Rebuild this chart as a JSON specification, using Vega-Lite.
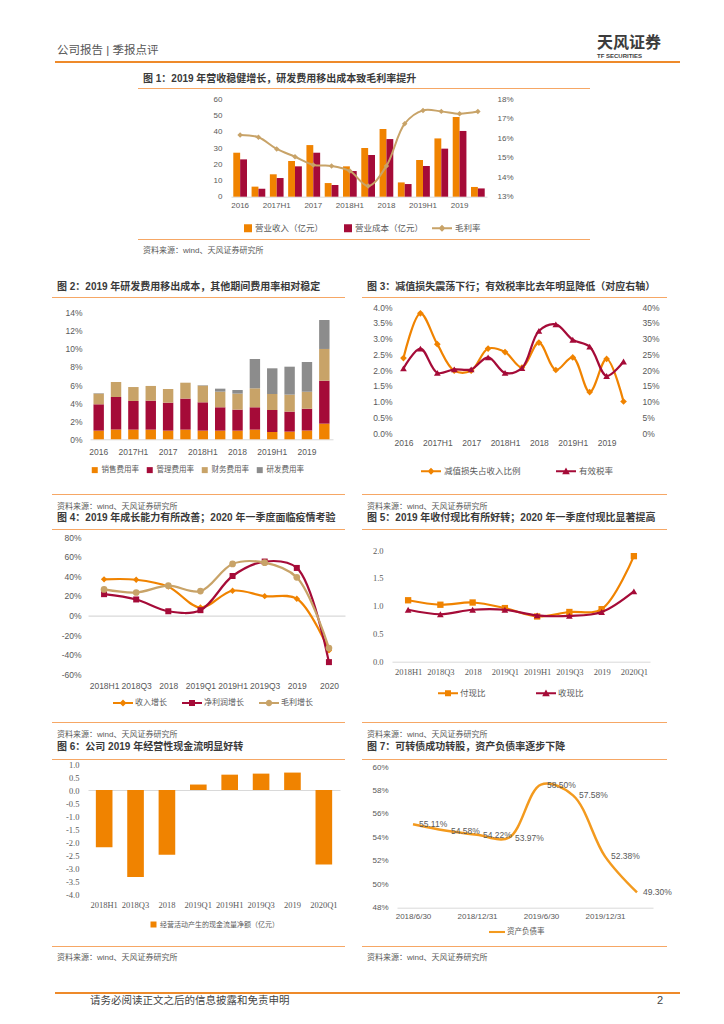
{
"$schema":"https://vega.github.io/schema/vega-lite/v6.json",
"padding":0,
"background":"white",
"spacing":0,
"resolve":{"scale":{"color":"independent","fill":"independent","shape":"independent"}},
"config":{
 "font":"Liberation Sans, Noto Sans CJK SC",
 "view":{"stroke":null},
 "locale":{"number":{"decimal":".","thousands":",","grouping":[3],"currency":["$",""],"minus":"-"}},
 "axis":{"labelFont":"Liberation Sans, Noto Sans CJK SC","labelFontSize":8,"labelColor":"#595959","domain":false,"ticks":false,"grid":false,"labelPadding":6,"labelOverlap":false},
 "legend":{"labelFont":"Liberation Sans, Noto Sans CJK SC","labelFontSize":8,"labelColor":"#595959"},
 "title":{"font":"Liberation Sans, Noto Sans CJK SC","limit":500}
},
"datasets":{
 "f1b":[
  {"p":"2016","s":"营业收入（亿元）","v":27.1},{"p":"2016","s":"营业成本（亿元）","v":23.0},
  {"p":"2017Q1","s":"营业收入（亿元）","v":6.2},{"p":"2017Q1","s":"营业成本（亿元）","v":4.9},
  {"p":"2017H1","s":"营业收入（亿元）","v":13.8},{"p":"2017H1","s":"营业成本（亿元）","v":11.5},
  {"p":"2017Q3","s":"营业收入（亿元）","v":22.0},{"p":"2017Q3","s":"营业成本（亿元）","v":18.7},
  {"p":"2017","s":"营业收入（亿元）","v":31.8},{"p":"2017","s":"营业成本（亿元）","v":27.1},
  {"p":"2018Q1","s":"营业收入（亿元）","v":8.4},{"p":"2018Q1","s":"营业成本（亿元）","v":7.2},
  {"p":"2018H1","s":"营业收入（亿元）","v":18.7},{"p":"2018H1","s":"营业成本（亿元）","v":15.8},
  {"p":"2018Q3","s":"营业收入（亿元）","v":30.0},{"p":"2018Q3","s":"营业成本（亿元）","v":25.7},
  {"p":"2018","s":"营业收入（亿元）","v":41.7},{"p":"2018","s":"营业成本（亿元）","v":35.5},
  {"p":"2019Q1","s":"营业收入（亿元）","v":8.8},{"p":"2019Q1","s":"营业成本（亿元）","v":7.8},
  {"p":"2019H1","s":"营业收入（亿元）","v":22.6},{"p":"2019H1","s":"营业成本（亿元）","v":18.9},
  {"p":"2019Q3","s":"营业收入（亿元）","v":35.9},{"p":"2019Q3","s":"营业成本（亿元）","v":29.6},
  {"p":"2019","s":"营业收入（亿元）","v":49.1},{"p":"2019","s":"营业成本（亿元）","v":40.5},
  {"p":"2020Q1","s":"营业收入（亿元）","v":6.0},{"p":"2020Q1","s":"营业成本（亿元）","v":5.1}
 ],
 "f1g":[
  {"p":"2016","v":0.1617},{"p":"2017Q1","v":0.1605},{"p":"2017H1","v":0.1545},{"p":"2017Q3","v":0.1505},
  {"p":"2017","v":0.1463},{"p":"2018Q1","v":0.1458},{"p":"2018H1","v":0.1432},{"p":"2018Q3","v":0.1355},
  {"p":"2018","v":0.1458},{"p":"2019Q1","v":0.1675},{"p":"2019H1","v":0.1743},{"p":"2019Q3","v":0.1738},
  {"p":"2019","v":0.1726},{"p":"2020Q1","v":0.1737}
 ],
 "f2":[
  {"p":"2016","s":"销售费用率","v":0.0096,"o":1},{"p":"2016","s":"管理费用率","v":0.0291,"o":2},{"p":"2016","s":"财务费用率","v":0.0118,"o":3},{"p":"2016","s":"研发费用率","v":0.0005,"o":4},
  {"p":"2017Q1","s":"销售费用率","v":0.0107,"o":1},{"p":"2017Q1","s":"管理费用率","v":0.0361,"o":2},{"p":"2017Q1","s":"财务费用率","v":0.0166,"o":3},{"p":"2017Q1","s":"研发费用率","v":0,"o":4},
  {"p":"2017H1","s":"销售费用率","v":0.0107,"o":1},{"p":"2017H1","s":"管理费用率","v":0.0317,"o":2},{"p":"2017H1","s":"财务费用率","v":0.0154,"o":3},{"p":"2017H1","s":"研发费用率","v":0,"o":4},
  {"p":"2017Q3","s":"销售费用率","v":0.0107,"o":1},{"p":"2017Q3","s":"管理费用率","v":0.0320,"o":2},{"p":"2017Q3","s":"财务费用率","v":0.0163,"o":3},{"p":"2017Q3","s":"研发费用率","v":0,"o":4},
  {"p":"2017","s":"销售费用率","v":0.0096,"o":1},{"p":"2017","s":"管理费用率","v":0.0309,"o":2},{"p":"2017","s":"财务费用率","v":0.0151,"o":3},{"p":"2017","s":"研发费用率","v":0,"o":4},
  {"p":"2018Q1","s":"销售费用率","v":0.0107,"o":1},{"p":"2018Q1","s":"管理费用率","v":0.0343,"o":2},{"p":"2018Q1","s":"财务费用率","v":0.0176,"o":3},{"p":"2018Q1","s":"研发费用率","v":0,"o":4},
  {"p":"2018H1","s":"销售费用率","v":0.0096,"o":1},{"p":"2018H1","s":"管理费用率","v":0.0313,"o":2},{"p":"2018H1","s":"财务费用率","v":0.0184,"o":3},{"p":"2018H1","s":"研发费用率","v":0.0005,"o":4},
  {"p":"2018Q3","s":"销售费用率","v":0.0096,"o":1},{"p":"2018Q3","s":"管理费用率","v":0.0258,"o":2},{"p":"2018Q3","s":"财务费用率","v":0.0173,"o":3},{"p":"2018Q3","s":"研发费用率","v":0.0033,"o":4},
  {"p":"2018","s":"销售费用率","v":0.0096,"o":1},{"p":"2018","s":"管理费用率","v":0.0232,"o":2},{"p":"2018","s":"财务费用率","v":0.0177,"o":3},{"p":"2018","s":"研发费用率","v":0.0040,"o":4},
  {"p":"2019Q1","s":"销售费用率","v":0.0107,"o":1},{"p":"2019Q1","s":"管理费用率","v":0.0247,"o":2},{"p":"2019Q1","s":"财务费用率","v":0.0210,"o":3},{"p":"2019Q1","s":"研发费用率","v":0.0324,"o":4},
  {"p":"2019H1","s":"销售费用率","v":0.0081,"o":1},{"p":"2019H1","s":"管理费用率","v":0.0243,"o":2},{"p":"2019H1","s":"财务费用率","v":0.0177,"o":3},{"p":"2019H1","s":"研发费用率","v":0.0284,"o":4},
  {"p":"2019Q3","s":"销售费用率","v":0.0085,"o":1},{"p":"2019Q3","s":"管理费用率","v":0.0221,"o":2},{"p":"2019Q3","s":"财务费用率","v":0.0188,"o":3},{"p":"2019Q3","s":"研发费用率","v":0.0309,"o":4},
  {"p":"2019","s":"销售费用率","v":0.0096,"o":1},{"p":"2019","s":"管理费用率","v":0.0243,"o":2},{"p":"2019","s":"财务费用率","v":0.0188,"o":3},{"p":"2019","s":"研发费用率","v":0.0328,"o":4},
  {"p":"2020Q1","s":"销售费用率","v":0.0173,"o":1},{"p":"2020Q1","s":"管理费用率","v":0.0475,"o":2},{"p":"2020Q1","s":"财务费用率","v":0.0351,"o":3},{"p":"2020Q1","s":"研发费用率","v":0.0320,"o":4}
 ],
 "f3":[
  {"p":"2016","a":0.0238,"b":0.205},{"p":"2017Q1","a":0.0380,"b":0.268},{"p":"2017H1","a":0.0282,"b":0.191},
  {"p":"2017Q3","a":0.0198,"b":0.202},{"p":"2017","a":0.0198,"b":0.202},{"p":"2018Q1","a":0.0268,"b":0.240},
  {"p":"2018H1","a":0.0257,"b":0.191},{"p":"2018Q3","a":0.0208,"b":0.206},{"p":"2018","a":0.0287,"b":0.324},
  {"p":"2019Q1","a":0.0200,"b":0.345},{"p":"2019H1","a":0.0240,"b":0.296},{"p":"2019Q3","a":0.0130,"b":0.274},
  {"p":"2019","a":0.0235,"b":0.181},{"p":"2020Q1","a":0.0100,"b":0.227}
 ],
 "f4":[
  {"p":"2018H1","r":0.369,"n":0.218,"g":0.266},{"p":"2018Q3","r":0.365,"n":0.164,"g":0.235},
  {"p":"2018","r":0.294,"n":0.044,"g":0.304},{"p":"2019Q1","r":0.082,"n":0.055,"g":0.249},
  {"p":"2019H1","r":0.253,"n":0.403,"g":0.526},{"p":"2019Q3","r":0.198,"n":0.550,"g":0.539},
  {"p":"2019","r":0.171,"n":0.485,"g":0.389},{"p":"2020","r":-0.355,"n":-0.474,"g":-0.331}
 ],
 "f5":[
  {"p":"2018H1","f":1.10,"c":0.93},{"p":"2018Q3","f":1.02,"c":0.85},{"p":"2018","f":1.06,"c":0.93},
  {"p":"2019Q1","f":0.96,"c":0.93},{"p":"2019H1","f":0.81,"c":0.83},{"p":"2019Q3","f":0.89,"c":0.82},
  {"p":"2019","f":0.94,"c":0.89},{"p":"2020Q1","f":1.89,"c":1.26}
 ],
 "f6":[
  {"p":"2018H1","v":-2.20},{"p":"2018Q3","v":-3.35},{"p":"2018","v":-2.49},{"p":"2019Q1","v":0.21},
  {"p":"2019H1","v":0.59},{"p":"2019Q3","v":0.63},{"p":"2019","v":0.67},{"p":"2020Q1","v":-2.87}
 ],
 "f7":[
  {"p":"2018/6/30","v":0.5511},{"p":"2018/9/30","v":0.5458},{"p":"2018/12/31","v":0.5422},{"p":"2019/3/31","v":0.5397},
  {"p":"2019/6/30","v":0.5850},{"p":"2019/9/30","v":0.5758},{"p":"2019/12/31","v":0.5238},{"p":"2020/3/31","v":0.4930}
 ]
},
"vconcat":[
 {"spacing":0,"hconcat":[
  {"width":360,"height":61,"data":{"values":[]},"mark":"point",
   "title":{"text":"公司报告 | 季报点评","orient":"bottom","anchor":"start","dx":57,"offset":-16,"fontSize":11.5,"fontWeight":"normal","color":"#555555"}},
  {"width":364,"height":61,"data":{"values":[]},"mark":"point",
   "title":{"text":"天风证券","subtitle":"TF SECURITIES","orient":"bottom","anchor":"start","dx":237,"offset":-26,"fontSize":16,"fontWeight":"bold","color":"#3C3C3C","subtitleFontSize":6,"subtitleFontWeight":"bold","subtitleColor":"#3C3C3C","subtitlePadding":2,"subtitleFont":"Liberation Sans"}}
 ]},
 {"spacing":0,"hconcat":[
  {"width":55,"height":2,"data":{"values":[]},"mark":"point"},
  {"width":625,"height":2,"data":{"values":[]},"mark":"point","view":{"fill":"#EE8A2A"}}
 ]},
 {"spacing":0,"resolve":{"scale":{"color":"independent","fill":"independent","shape":"independent"}},"hconcat":[
  {"width":138,"height":1,"data":{"values":[]},"mark":"point"},
  {"spacing":0,"resolve":{"scale":{"color":"independent","fill":"independent","shape":"independent"}},"vconcat":[
   {"width":452,"height":25,"data":{"values":[]},"mark":"point",
    "title":{"text":"图 1：2019 年营收稳健增长，研发费用移出成本致毛利率提升","orient":"top","anchor":"start","dx":5,"offset":-21,"fontSize":10,"fontWeight":"bold","color":"#3A3A3A"}},
   {"width":452,"height":1,"data":{"values":[]},"mark":"point","view":{"fill":"#F6A765"}},
   {"width":452,"height":150,
    "layer":[
     {"data":{"name":"f1b"},"mark":{"type":"bar"},
      "encoding":{
       "x":{"field":"p","type":"nominal","scale":{"domain":["2016","2017Q1","2017H1","2017Q3","2017","2018Q1","2018H1","2018Q3","2018","2019Q1","2019H1","2019Q3","2019","2020Q1"],"range":[93,349],"paddingInner":0.25,"paddingOuter":0.125},
            "axis":{"title":null,"labelAngle":0,"values":["2016","2017H1","2017","2018H1","2018","2019H1","2019"],"domain":true,"domainColor":"#D9D9D9","labelPadding":5,"offset":-42.3,"labelOverlap":false}},
       "xOffset":{"field":"s","type":"nominal","scale":{"domain":["营业收入（亿元）","营业成本（亿元）"]}},
       "y":{"field":"v","type":"quantitative","scale":{"domain":[0,60],"range":[107.7,10.3]},"axis":{"title":null,"values":[0,10,20,30,40,50,60],"labelPadding":9,"offset":-93,"labelOverlap":false}},
       "color":{"field":"s","type":"nominal","scale":{"domain":["营业收入（亿元）","营业成本（亿元）"],"range":["#F08300","#A50B38"]},"legend":null}
      }},
     {"data":{"name":"f1g"},
      "encoding":{"x":{"field":"p","type":"nominal","bandPosition":0.5,"title":null},
                  "y":{"field":"v","type":"quantitative","scale":{"domain":[0.13,0.18],"range":[107.7,10.3]},"axis":{"title":null,"orient":"right","format":".0%","values":[0.13,0.14,0.15,0.16,0.17,0.18],"labelPadding":10,"offset":-103,"labelOverlap":false}}},
      "layer":[
       {"mark":{"type":"line","color":"#C8A368","strokeWidth":2,"interpolate":"catmull-rom"}},
       {"mark":{"type":"point","shape":"diamond","filled":true,"color":"#C8A368","size":30,"opacity":1}}
      ]},
     {"data":{"values":[]},"mark":{"type":"point","filled":true},
      "encoding":{
       "fill":{"field":"s","type":"nominal","scale":{"domain":["营业收入（亿元）","营业成本（亿元）","毛利率"],"range":["#F08300","#A50B38","#C8A368"]},
               "legend":{"orient":"none","legendX":94,"legendY":129,"direction":"horizontal","title":null,"symbolSize":400,"labelOffset":3,"columnPadding":8,"symbolStrokeWidth":0,"symbolOpacity":1,"labelFontSize":8.5}},
       "shape":{"field":"s","type":"nominal","scale":{"domain":["营业收入（亿元）","营业成本（亿元）","毛利率"],"range":["M0.2,-0.4H1V0.4H0.2Z","M0.2,-0.4H1V0.4H0.2Z","M-1,-0.1H1V0.1H-1Z M0,-0.35L0.35,0L0,0.35L-0.35,0Z"]},
               "legend":{"orient":"none","legendX":94,"legendY":129,"direction":"horizontal","title":null,"symbolSize":400,"labelOffset":3,"columnPadding":8,"symbolStrokeWidth":0,"symbolOpacity":1,"labelFontSize":8.5}}
      }}
    ],
    "resolve":{"scale":{"y":"independent"}}
   },
   {"width":452,"height":1,"data":{"values":[]},"mark":"point","view":{"fill":"#F6A765"}},
   {"width":452,"height":18,"data":{"values":[]},"mark":"point",
    "title":{"text":"资料来源：wind、天风证券研究所","orient":"bottom","anchor":"start","dx":5,"offset":-11,"fontSize":8,"fontWeight":"normal","color":"#595959"}}
  ]}
 ]},
 {"spacing":0,"resolve":{"scale":{"color":"independent","fill":"independent","shape":"independent"}},"hconcat":[
  {"width":52,"height":1,"data":{"values":[]},"mark":"point"},
  {"spacing":0,"resolve":{"scale":{"color":"independent","fill":"independent","shape":"independent"}},"vconcat":[
   {"width":293,"height":39,"data":{"values":[]},"mark":"point",
    "title":{"text":"图 2：2019 年研发费用移出成本，其他期间费用率相对稳定","orient":"top","anchor":"start","dx":5,"offset":-34,"fontSize":10,"fontWeight":"bold","color":"#3A3A3A"}},
   {"width":293,"height":1,"data":{"values":[]},"mark":"point","view":{"fill":"#F6A765"}},
   {"width":293,"height":196,"data":{"name":"f2"},"mark":{"type":"bar"},
    "encoding":{
     "x":{"field":"p","type":"nominal","scale":{"domain":["2016","2017Q1","2017H1","2017Q3","2017","2018Q1","2018H1","2018Q3","2018","2019Q1","2019H1","2019Q3","2019","2020Q1"],"range":[38,281],"paddingInner":0.4,"paddingOuter":0.2},
          "axis":{"title":null,"labelAngle":0,"values":["2016","2017H1","2017","2018H1","2018","2019H1","2019"],"domain":true,"domainColor":"#D9D9D9","labelPadding":8,"labelFontSize":8.5,"offset":-54.7,"labelOverlap":false}},
     "y":{"field":"v","type":"quantitative","stack":"zero","scale":{"domain":[0,0.14],"range":[141.3,14.7]},"axis":{"title":null,"format":".0%","values":[0,0.02,0.04,0.06,0.08,0.1,0.12,0.14],"labelPadding":8,"labelFontSize":8.5,"offset":-38,"labelOverlap":false}},
     "color":{"field":"s","type":"nominal","scale":{"domain":["销售费用率","管理费用率","财务费用率","研发费用率"],"range":["#F08300","#A50B38","#C8A368","#8C8C8C"]},
              "legend":{"orient":"none","legendX":39,"legendY":168,"direction":"horizontal","title":null,"symbolType":"square","symbolSize":36,"labelOffset":3,"columnPadding":7,"symbolStrokeWidth":0,"labelFontSize":7.5}},
     "order":{"field":"o","type":"quantitative"}
    }},
   {"width":293,"height":1,"data":{"values":[]},"mark":"point","view":{"fill":"#F6A765"}},
   {"width":293,"height":17,"data":{"values":[]},"mark":"point",
    "title":{"text":"资料来源：wind、天风证券研究所","orient":"bottom","anchor":"start","dx":5,"offset":-9,"fontSize":8,"fontWeight":"normal","color":"#595959"}}
  ]},
  {"width":17,"height":1,"data":{"values":[]},"mark":"point"},
  {"spacing":0,"resolve":{"scale":{"color":"independent","fill":"independent","shape":"independent"}},"vconcat":[
   {"width":305,"height":39,"data":{"values":[]},"mark":"point",
    "title":{"text":"图 3：减值损失震荡下行；有效税率比去年明显降低（对应右轴）","orient":"top","anchor":"start","dx":5,"offset":-34,"fontSize":10,"fontWeight":"bold","color":"#3A3A3A"}},
   {"width":305,"height":1,"data":{"values":[]},"mark":"point","view":{"fill":"#F6A765"}},
   {"width":305,"height":196,"data":{"name":"f3"},
    "layer":[
     {"encoding":{"x":{"field":"p","type":"nominal","scale":{"domain":["2016","2017Q1","2017H1","2017Q3","2017","2018Q1","2018H1","2018Q3","2018","2019Q1","2019H1","2019Q3","2019","2020Q1"],"range":[33,270]},"axis":{"title":null,"labelAngle":0,"values":["2016","2017H1","2017","2018H1","2018","2019H1","2019"],"labelPadding":5,"labelFontSize":8.5,"offset":-61,"labelOverlap":false}},
                  "y":{"field":"a","type":"quantitative","scale":{"domain":[0,0.04],"range":[135,9]},"axis":{"title":null,"format":".1%","values":[0,0.005,0.01,0.015,0.02,0.025,0.03,0.035,0.04],"labelPadding":3,"labelFontSize":8.5,"offset":-33,"labelOverlap":false}}},
      "layer":[
       {"mark":{"type":"line","color":"#F08300","strokeWidth":2.2,"interpolate":"catmull-rom"}},
       {"mark":{"type":"point","shape":"diamond","filled":true,"color":"#F08300","size":45,"opacity":1}}
      ]},
     {"encoding":{"x":{"field":"p","type":"nominal","title":null},
                  "y":{"field":"b","type":"quantitative","scale":{"domain":[0,0.4],"range":[135,9]},"axis":{"title":null,"orient":"right","format":".0%","values":[0,0.05,0.1,0.15,0.2,0.25,0.3,0.35,0.4],"labelPadding":10,"labelFontSize":8.5,"offset":-35,"labelOverlap":false}}},
      "layer":[
       {"mark":{"type":"line","color":"#A50B38","strokeWidth":2.2,"interpolate":"catmull-rom"}},
       {"mark":{"type":"point","shape":"triangle-up","filled":true,"color":"#A50B38","size":45,"opacity":1}}
      ]},
     {"data":{"values":[]},"mark":{"type":"point","filled":true},
      "encoding":{
       "fill":{"field":"s","type":"nominal","scale":{"domain":["减值损失占收入比例","有效税率"],"range":["#F08300","#A50B38"]},
               "legend":{"orient":"none","legendX":59,"legendY":163,"direction":"horizontal","title":null,"symbolSize":400,"labelOffset":3,"columnPadding":35,"symbolStrokeWidth":0,"symbolOpacity":1,"labelFontSize":8.5}},
       "shape":{"field":"s","type":"nominal","scale":{"domain":["减值损失占收入比例","有效税率"],"range":["M-1,-0.1H1V0.1H-1Z M0,-0.35L0.35,0L0,0.35L-0.35,0Z","M-1,-0.1H1V0.1H-1Z M0,-0.38L0.38,0.3L-0.38,0.3Z"]},
               "legend":{"orient":"none","legendX":59,"legendY":163,"direction":"horizontal","title":null,"symbolSize":400,"labelOffset":3,"columnPadding":35,"symbolStrokeWidth":0,"symbolOpacity":1,"labelFontSize":8.5}}
      }}
    ],
    "resolve":{"scale":{"y":"independent"}}
   },
   {"width":305,"height":1,"data":{"values":[]},"mark":"point","view":{"fill":"#F6A765"}},
   {"width":305,"height":17,"data":{"values":[]},"mark":"point",
    "title":{"text":"资料来源：wind、天风证券研究所","orient":"bottom","anchor":"start","dx":5,"offset":-9,"fontSize":8,"fontWeight":"normal","color":"#595959"}}
  ]}
 ]},
 {"spacing":0,"resolve":{"scale":{"color":"independent","fill":"independent","shape":"independent"}},"hconcat":[
  {"width":52,"height":1,"data":{"values":[]},"mark":"point"},
  {"spacing":0,"resolve":{"scale":{"color":"independent","fill":"independent","shape":"independent"}},"vconcat":[
   {"width":293,"height":17,"data":{"values":[]},"mark":"point",
    "title":{"text":"图 4：2019 年成长能力有所改善；2020 年一季度面临疫情考验","orient":"top","anchor":"start","dx":5,"offset":-11,"fontSize":10,"fontWeight":"bold","color":"#3A3A3A"}},
   {"width":293,"height":1,"data":{"values":[]},"mark":"point","view":{"fill":"#F6A765"}},
   {"width":293,"height":192,"data":{"name":"f4"},
    "layer":[
     {"mark":{"type":"line","color":"#F08300","strokeWidth":2.2,"interpolate":"catmull-rom"},
      "encoding":{"x":{"field":"p","type":"nominal","scale":{"domain":["2018H1","2018Q3","2018","2019Q1","2019H1","2019Q3","2019","2020"],"range":[36,293]},"axis":{"title":null,"orient":"bottom","labelAngle":0,"labelPadding":7,"labelFontSize":8.5,"offset":-47.5,"labelOverlap":false}},
                  "y":{"field":"r","type":"quantitative","scale":{"domain":[-0.6,0.8],"range":[144.5,7]},"axis":{"title":null,"format":".0%","values":[-0.6,-0.4,-0.2,0,0.2,0.4,0.6,0.8],"labelPadding":7,"labelFontSize":8.5,"offset":-36,"labelOverlap":false}}}},
     {"mark":{"type":"point","shape":"diamond","filled":true,"color":"#F08300","size":40,"opacity":1},
      "encoding":{"x":{"field":"p","type":"nominal","axis":{"title":null,"orient":"top","labels":false,"domain":true,"domainColor":"#CFCFCF","ticks":false,"offset":-85.6}},
                  "y":{"field":"r","type":"quantitative","axis":{"title":null,"format":".0%","values":[-0.6,-0.4,-0.2,0,0.2,0.4,0.6,0.8],"labelPadding":7,"labelFontSize":8.5,"offset":-36,"labelOverlap":false}}}},
     {"mark":{"type":"line","color":"#A50B38","strokeWidth":2.2,"interpolate":"catmull-rom"},
      "encoding":{"x":{"field":"p","type":"nominal","axis":null},
                  "y":{"field":"n","type":"quantitative","axis":{"title":null,"format":".0%","values":[-0.6,-0.4,-0.2,0,0.2,0.4,0.6,0.8],"labelPadding":7,"labelFontSize":8.5,"offset":-36,"labelOverlap":false}}}},
     {"mark":{"type":"point","shape":"square","filled":true,"color":"#A50B38","size":36,"opacity":1},
      "encoding":{"x":{"field":"p","type":"nominal","axis":null},
                  "y":{"field":"n","type":"quantitative","axis":{"title":null,"format":".0%","values":[-0.6,-0.4,-0.2,0,0.2,0.4,0.6,0.8],"labelPadding":7,"labelFontSize":8.5,"offset":-36,"labelOverlap":false}}}},
     {"mark":{"type":"line","color":"#C8A368","strokeWidth":2.2,"interpolate":"catmull-rom"},
      "encoding":{"x":{"field":"p","type":"nominal","axis":null},
                  "y":{"field":"g","type":"quantitative","axis":{"title":null,"format":".0%","values":[-0.6,-0.4,-0.2,0,0.2,0.4,0.6,0.8],"labelPadding":7,"labelFontSize":8.5,"offset":-36,"labelOverlap":false}}}},
     {"mark":{"type":"point","shape":"circle","filled":true,"color":"#C8A368","size":45,"opacity":1},
      "encoding":{"x":{"field":"p","type":"nominal","axis":null},
                  "y":{"field":"g","type":"quantitative","axis":{"title":null,"format":".0%","values":[-0.6,-0.4,-0.2,0,0.2,0.4,0.6,0.8],"labelPadding":7,"labelFontSize":8.5,"offset":-36,"labelOverlap":false}}}},
     {"data":{"values":[]},"mark":{"type":"point","filled":true},
      "encoding":{
       "fill":{"field":"s","type":"nominal","scale":{"domain":["收入增长","净利润增长","毛利增长"],"range":["#F08300","#A50B38","#C8A368"]},
               "legend":{"orient":"none","legendX":61,"legendY":163,"direction":"horizontal","title":null,"symbolSize":400,"labelOffset":2,"columnPadding":15,"symbolStrokeWidth":0,"symbolOpacity":1,"labelFontSize":8}},
       "shape":{"field":"s","type":"nominal","scale":{"domain":["收入增长","净利润增长","毛利增长"],"range":["M-1,-0.1H1V0.1H-1Z M0,-0.35L0.35,0L0,0.35L-0.35,0Z","M-1,-0.1H1V0.1H-1Z M-0.3,-0.3H0.3V0.3H-0.3Z","M-1,-0.1H1V0.1H-1Z M-0.32,0A0.32,0.32 0 1,1 0.32,0A0.32,0.32 0 1,1 -0.32,0Z"]},
               "legend":{"orient":"none","legendX":61,"legendY":163,"direction":"horizontal","title":null,"symbolSize":400,"labelOffset":2,"columnPadding":15,"symbolStrokeWidth":0,"symbolOpacity":1,"labelFontSize":8}}
      }}
    ],
    "resolve":{"axis":{"x":"independent"}}
   },
   {"width":293,"height":1,"data":{"values":[]},"mark":"point","view":{"fill":"#F6A765"}},
   {"width":293,"height":17,"data":{"values":[]},"mark":"point",
    "title":{"text":"资料来源：wind、天风证券研究所","orient":"bottom","anchor":"start","dx":5,"offset":-9,"fontSize":8,"fontWeight":"normal","color":"#595959"}}
  ]},
  {"width":17,"height":1,"data":{"values":[]},"mark":"point"},
  {"spacing":0,"resolve":{"scale":{"color":"independent","fill":"independent","shape":"independent"}},"vconcat":[
   {"width":305,"height":17,"data":{"values":[]},"mark":"point",
    "title":{"text":"图 5：2019 年收付现比有所好转；2020 年一季度付现比显著提高","orient":"top","anchor":"start","dx":5,"offset":-11,"fontSize":10,"fontWeight":"bold","color":"#3A3A3A"}},
   {"width":305,"height":1,"data":{"values":[]},"mark":"point","view":{"fill":"#F6A765"}},
   {"width":305,"height":192,"data":{"name":"f5"},
    "layer":[
     {"mark":{"type":"line","color":"#F08300","strokeWidth":2.2,"interpolate":"catmull-rom"},
      "encoding":{"x":{"field":"p","type":"nominal","scale":{"domain":["2018H1","2018Q3","2018","2019Q1","2019H1","2019Q3","2019","2020Q1"],"range":[30,288]},"axis":{"title":null,"labelAngle":0,"labelPadding":6,"labelFontSize":8.5,"labelFont":"Liberation Serif","domain":true,"domainColor":"#D9D9D9","offset":-60.3,"labelOverlap":false}},
                  "y":{"field":"f","type":"quantitative","scale":{"domain":[0,2],"range":[131.7,20]},"axis":{"title":null,"format":".1f","values":[0,0.5,1,1.5,2],"labelPadding":9,"labelFontSize":8.5,"labelFont":"Liberation Serif","offset":-30,"labelOverlap":false}}}},
     {"mark":{"type":"point","shape":"square","filled":true,"color":"#F08300","size":40,"opacity":1},
      "encoding":{"x":{"field":"p","type":"nominal","title":null},"y":{"field":"f","type":"quantitative","title":null}}},
     {"mark":{"type":"line","color":"#A50B38","strokeWidth":2.2,"interpolate":"catmull-rom"},
      "encoding":{"x":{"field":"p","type":"nominal","title":null},"y":{"field":"c","type":"quantitative","title":null}}},
     {"mark":{"type":"point","shape":"triangle-up","filled":true,"color":"#A50B38","size":45,"opacity":1},
      "encoding":{"x":{"field":"p","type":"nominal","title":null},"y":{"field":"c","type":"quantitative","title":null}}},
     {"data":{"values":[]},"mark":{"type":"point","filled":true},
      "encoding":{
       "fill":{"field":"s","type":"nominal","scale":{"domain":["付现比","收现比"],"range":["#F08300","#A50B38"]},
               "legend":{"orient":"none","legendX":76,"legendY":153,"direction":"horizontal","title":null,"symbolSize":400,"labelOffset":2,"columnPadding":50,"symbolStrokeWidth":0,"symbolOpacity":1,"labelFontSize":8.5}},
       "shape":{"field":"s","type":"nominal","scale":{"domain":["付现比","收现比"],"range":["M-1,-0.1H1V0.1H-1Z M-0.3,-0.3H0.3V0.3H-0.3Z","M-1,-0.1H1V0.1H-1Z M0,-0.38L0.38,0.3L-0.38,0.3Z"]},
               "legend":{"orient":"none","legendX":76,"legendY":153,"direction":"horizontal","title":null,"symbolSize":400,"labelOffset":2,"columnPadding":50,"symbolStrokeWidth":0,"symbolOpacity":1,"labelFontSize":8.5}}
      }}
    ]
   },
   {"width":305,"height":1,"data":{"values":[]},"mark":"point","view":{"fill":"#F6A765"}},
   {"width":305,"height":17,"data":{"values":[]},"mark":"point",
    "title":{"text":"资料来源：wind、天风证券研究所","orient":"bottom","anchor":"start","dx":5,"offset":-9,"fontSize":8,"fontWeight":"normal","color":"#595959"}}
  ]}
 ]},
 {"spacing":0,"resolve":{"scale":{"color":"independent","fill":"independent","shape":"independent"}},"hconcat":[
  {"width":52,"height":1,"data":{"values":[]},"mark":"point"},
  {"spacing":0,"resolve":{"scale":{"color":"independent","fill":"independent","shape":"independent"}},"vconcat":[
   {"width":293,"height":19,"data":{"values":[]},"mark":"point",
    "title":{"text":"图 6：公司 2019 年经营性现金流明显好转","orient":"top","anchor":"start","dx":5,"offset":-12,"fontSize":10,"fontWeight":"bold","color":"#3A3A3A"}},
   {"width":293,"height":1,"data":{"values":[]},"mark":"point","view":{"fill":"#F6A765"}},
   {"width":293,"height":186,"data":{"name":"f6"},"mark":{"type":"bar"},
    "encoding":{
     "x":{"field":"p","type":"nominal","scale":{"domain":["2018H1","2018Q3","2018","2019Q1","2019H1","2019Q3","2019","2020Q1"],"range":[36,288],"paddingInner":0.47,"paddingOuter":0.25},"axis":{"title":null,"labelAngle":0,"labelPadding":6,"labelFontSize":8.5,"labelFont":"Liberation Serif","offset":-52,"labelOverlap":false}},
     "y":{"field":"v","type":"quantitative","scale":{"domain":[-4,1],"range":[134,4]},"axis":{"title":null,"format":".1f","values":[-4,-3.5,-3,-2.5,-2,-1.5,-1,-0.5,0,0.5,1],"labelPadding":9,"labelFontSize":8.5,"labelFont":"Liberation Serif","offset":-36,"labelOverlap":false,"grid":true,"gridColor":"#D9D9D9","gridOpacity":{"condition":{"test":"abs(datum.value) < 0.001","value":1},"value":0}}},
     "color":{"datum":"经营活动产生的现金流量净额（亿元）","type":"nominal","scale":{"range":["#F08300"]},
              "legend":{"orient":"none","legendX":98,"legendY":161,"title":null,"symbolType":"square","symbolSize":36,"labelOffset":3,"symbolStrokeWidth":0,"labelFontSize":7}}
    }},
   {"width":293,"height":1,"data":{"values":[]},"mark":"point","view":{"fill":"#F6A765"}},
   {"width":293,"height":17,"data":{"values":[]},"mark":"point",
    "title":{"text":"资料来源：wind、天风证券研究所","orient":"bottom","anchor":"start","dx":5,"offset":-10,"fontSize":8,"fontWeight":"normal","color":"#595959"}}
  ]},
  {"width":17,"height":1,"data":{"values":[]},"mark":"point"},
  {"spacing":0,"resolve":{"scale":{"color":"independent","fill":"independent","shape":"independent"}},"vconcat":[
   {"width":305,"height":19,"data":{"values":[]},"mark":"point",
    "title":{"text":"图 7：可转债成功转股，资产负债率逐步下降","orient":"top","anchor":"start","dx":5,"offset":-12,"fontSize":10,"fontWeight":"bold","color":"#3A3A3A"}},
   {"width":305,"height":1,"data":{"values":[]},"mark":"point","view":{"fill":"#F6A765"}},
   {"width":305,"height":186,"data":{"name":"f7"},
    "encoding":{"x":{"field":"p","type":"nominal","scale":{"domain":["2018/6/30","2018/9/30","2018/12/31","2019/3/31","2019/6/30","2019/9/30","2019/12/31","2020/3/31"],"range":[35,291]},"axis":{"title":null,"labelAngle":0,"values":["2018/6/30","2018/12/31","2019/6/30","2019/12/31"],"domain":true,"domainColor":"#D9D9D9","labelPadding":5,"offset":-38.3,"labelOverlap":false}},
                "y":{"field":"v","type":"quantitative","scale":{"domain":[0.48,0.6],"range":[147.7,7]},"axis":{"title":null,"format":".0%","values":[0.48,0.5,0.52,0.54,0.56,0.58,0.6],"labelPadding":9,"offset":-35,"labelOverlap":false}}},
    "layer":[
     {"mark":{"type":"line","color":"#F39A1E","strokeWidth":2.5,"interpolate":"catmull-rom"}},
     {"mark":{"type":"text","align":"left","baseline":"middle","dx":6,"fontSize":8.5,"color":"#595959"},
      "encoding":{"text":{"field":"v","type":"quantitative","format":".2%"}}},
     {"data":{"values":[]},"mark":{"type":"point","filled":true},
      "encoding":{
       "fill":{"field":"s","type":"nominal","scale":{"domain":["资产负债率"],"range":["#F39A1E"]},
               "legend":{"orient":"none","legendX":127,"legendY":164,"direction":"horizontal","title":null,"symbolSize":256,"labelOffset":2,"symbolStrokeWidth":0,"symbolOpacity":1,"labelFontSize":7.5}},
       "shape":{"field":"s","type":"nominal","scale":{"domain":["资产负债率"],"range":["M-1,-0.13H1V0.13H-1Z"]},
               "legend":{"orient":"none","legendX":127,"legendY":164,"direction":"horizontal","title":null,"symbolSize":256,"labelOffset":2,"symbolStrokeWidth":0,"symbolOpacity":1,"labelFontSize":7.5}}
      }}
    ]
   },
   {"width":305,"height":1,"data":{"values":[]},"mark":"point","view":{"fill":"#F6A765"}},
   {"width":305,"height":17,"data":{"values":[]},"mark":"point",
    "title":{"text":"资料来源：wind、天风证券研究所","orient":"bottom","anchor":"start","dx":5,"offset":-10,"fontSize":8,"fontWeight":"normal","color":"#595959"}}
  ]}
 ]},
 {"width":724,"height":28,"data":{"values":[]},"mark":"point"},
 {"spacing":0,"hconcat":[
  {"width":55,"height":2,"data":{"values":[]},"mark":"point"},
  {"width":625,"height":2,"data":{"values":[]},"mark":"point","view":{"fill":"#EE8A2A"}}
 ]},
 {"spacing":0,"hconcat":[
  {"width":367,"height":18,"data":{"values":[]},"mark":"point",
   "title":{"text":"请务必阅读正文之后的信息披露和免责申明","orient":"top","anchor":"start","dx":90,"offset":-12,"fontSize":10.5,"fontWeight":"normal","color":"#444444"}},
  {"width":313,"height":18,"data":{"values":[]},"mark":"point",
   "title":{"text":"2","orient":"top","anchor":"end","dx":-17,"offset":-12,"fontSize":11,"fontWeight":"normal","color":"#444444","font":"Liberation Sans"}}
 ]}
]
}
